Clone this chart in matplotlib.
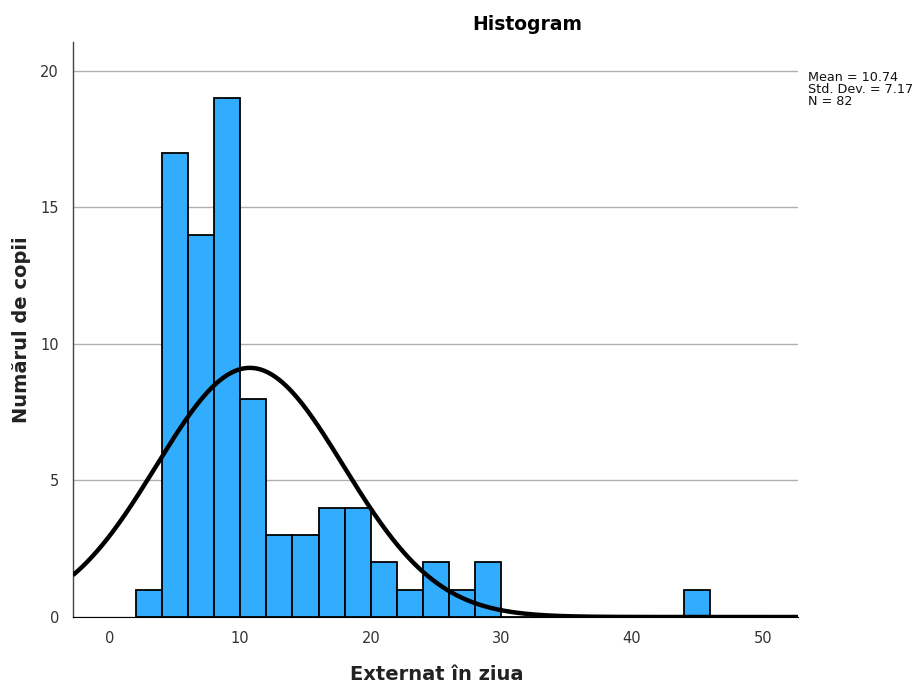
import numpy as np
import matplotlib
matplotlib.use("Agg")
import matplotlib.pyplot as plt

# Data (bin width 2)
bin_edges = list(range(2, 48, 2))
counts = [1, 17, 14, 19, 8, 3, 3, 4, 4, 2, 1, 2, 1, 2,
          0, 0, 0, 0, 0, 0, 0, 1]
mean_val = 10.74
std_val = 7.17
n_val = 82
bin_width = 2

title = "Histogram"
xlabel = "Externat în ziua"
ylabel = "Numărul de copii"
xticks = [0, 10, 20, 30, 40, 50]
yticks = [0, 5, 10, 15, 20]

plt.rcParams['font.family'] = ['DejaVu Sans']

fig = plt.figure(figsize=(9.18, 6.85), dpi=100)
ax = fig.add_axes([73/918, 1 - 617/685, (798-73)/918, (617-42)/685])

lefts = np.array(bin_edges[:-1], dtype=float)
ax.bar(lefts, counts, width=bin_width, align='edge', color='#32adfe',
       edgecolor='black', linewidth=1.3, zorder=3)

xs = np.linspace(-2.8, 52.7, 600)
ys = n_val * bin_width / (std_val * np.sqrt(2 * np.pi)) * np.exp(-0.5 * ((xs - mean_val) / std_val) ** 2)
ax.plot(xs, ys, color='black', linewidth=3.2, zorder=4, solid_capstyle='butt')

ax.set_xlim(-2.8, 52.7)
ax.set_ylim(0, 21.06)
ax.set_xticks(xticks)
ax.set_yticks(yticks)
ax.tick_params(axis='both', length=0, labelsize=10.5, colors='#333333', pad=10)
ax.yaxis.grid(True, color='#b0b0b0', linewidth=1.0, zorder=0)
ax.set_axisbelow(True)
for s in ['top', 'right']:
    ax.spines[s].set_visible(False)
ax.spines['left'].set_color('#444444')
ax.spines['bottom'].set_color('black')
ax.spines['left'].set_linewidth(1.0)

fig.text(527/918, 1 - 24/685, title, ha='center', va='center', fontsize=13.5, fontweight='bold')
fig.text(437/918, 1 - 674/685, xlabel, ha='center', va='center', fontsize=14, fontweight='bold', color='#222222')
fig.text(22/918, 1 - 330/685, ylabel, ha='center', va='center', rotation=90, fontsize=14, fontweight='bold', color='#222222')

fig.text(808/918, 1 - 71/685,
         f"Mean = {mean_val:.2f}\nStd. Dev. = {std_val:.2f}\nN = {n_val}",
         ha='left', va='top', fontsize=9.2, linespacing=0.88, color='#111111')

fig.savefig("out.png", dpi=100)
